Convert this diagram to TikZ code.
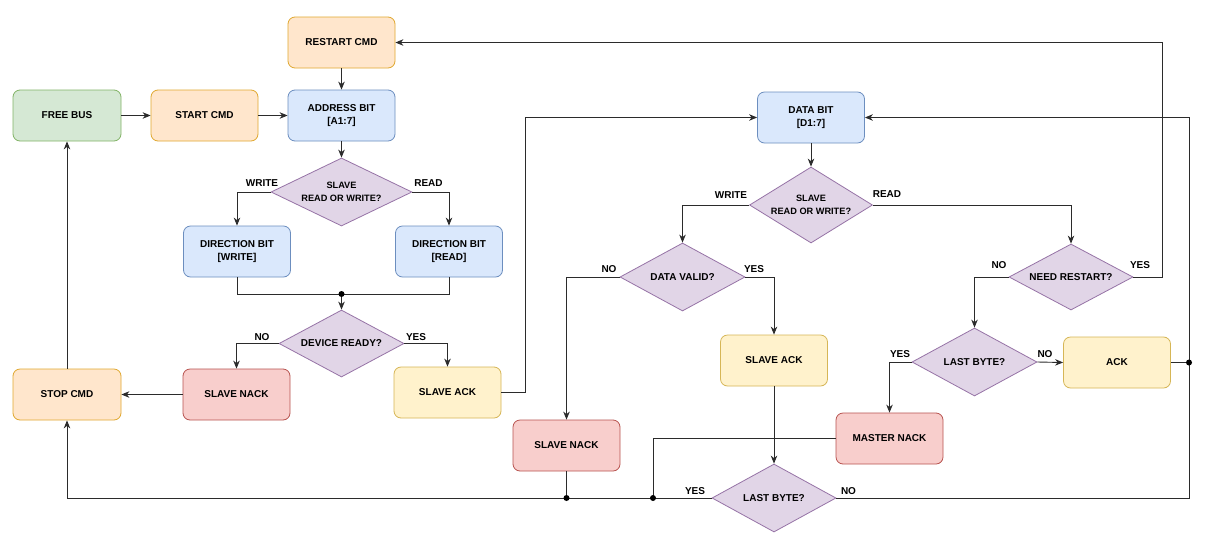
\documentclass[tikz,border=0pt]{standalone}
\usepackage{fontspec}
\setmainfont{Liberation Sans}
\usetikzlibrary{shapes.geometric,arrows.meta}
\definecolor{gFill}{HTML}{D5E8D4}\definecolor{gLine}{HTML}{82B366}
\definecolor{oFill}{HTML}{FFE6CC}\definecolor{oLine}{HTML}{E0A830}
\definecolor{bFill}{HTML}{DAE8FC}\definecolor{bLine}{HTML}{6C8EBF}
\definecolor{pFill}{HTML}{E1D5E7}\definecolor{pLine}{HTML}{9673A6}
\definecolor{rFill}{HTML}{F8CECC}\definecolor{rLine}{HTML}{B85450}
\definecolor{yFill}{HTML}{FFF2CC}\definecolor{yLine}{HTML}{D6B656}
\definecolor{lineC}{HTML}{2B2B2B}
\begin{document}
\begin{tikzpicture}[x=1pt,y=-1pt,
  box/.style={rectangle,rounded corners=7pt,minimum width=107pt,minimum height=51pt,inner sep=0pt,align=center,font=\bfseries\fontsize{10}{13.3}\selectfont,line width=0.8pt},
  grn/.style={box,fill=gFill,draw=gLine},
  org/.style={box,fill=oFill,draw=oLine},
  blu/.style={box,fill=bFill,draw=bLine},
  rdd/.style={box,fill=rFill,draw=rLine},
  ylw/.style={box,fill=yFill,draw=yLine},
  dec/.style={diamond,aspect=2,inner sep=0pt,align=center,draw=pLine,fill=pFill,line width=0.8pt,font=\bfseries\fontsize{10}{13}\selectfont},
  decs/.style={dec,font=\bfseries\fontsize{9.2}{12.6}\selectfont},
  lbl/.style={font=\bfseries\fontsize{10}{12}\selectfont,inner sep=0pt},
  conn/.style={line width=0.9pt,draw=lineC},
  arr/.style={conn,-{Stealth[length=8pt,width=6.5pt,inset=2.5pt]}},
  dotj/.style={circle,fill=black,inner sep=0pt,minimum size=6pt}
]
\useasboundingbox[fill=white] (0,0) rectangle (1223,552);

% nodes
\node[org] (restart) at (341.5,42.5) {RESTART CMD};
\node[grn,minimum width=108pt] (free) at (67,115.5) {FREE BUS};
\node[org] (start) at (204.5,115.5) {START CMD};
\node[blu] (addr) at (341.5,115.5) {ADDRESS BIT\\{[A1:7]}};
\node[decs,minimum width=141pt,minimum height=68pt] (rw1) at (341.5,192) {SLAVE\\READ OR WRITE?};
\node[blu] (dirw) at (237,251.5) {DIRECTION BIT\\{[WRITE]}};
\node[blu] (dirr) at (449,251.5) {DIRECTION BIT\\{[READ]}};
\node[dec,minimum width=125pt,minimum height=67pt] (ready) at (341.5,343.5) {DEVICE READY?};
\node[rdd] (nack1) at (236.5,394.5) {SLAVE NACK};
\node[org,minimum width=108pt] (stop) at (67,394.5) {STOP CMD};
\node[ylw] (ack1) at (447.5,392.5) {SLAVE ACK};
\node[blu] (data) at (811,117.5) {DATA BIT\\{[D1:7]}};
\node[decs,aspect=1.6,minimum width=123pt,minimum height=76pt] (rw2) at (811,205) {SLAVE\\READ OR WRITE?};
\node[dec,minimum width=125pt,minimum height=68pt] (valid) at (682.5,277) {DATA VALID?};
\node[dec,minimum width=124pt,minimum height=66pt] (needr) at (1071,277) {NEED RESTART?};
\node[rdd] (nack2) at (566.5,445.5) {SLAVE NACK};
\node[ylw] (ack2) at (774,360.5) {SLAVE ACK};
\node[dec,minimum width=125pt,minimum height=68pt] (lb1) at (974.5,362) {LAST BYTE?};
\node[ylw] (ack) at (1117,362.5) {ACK};
\node[rdd] (mnack) at (889.5,438.5) {MASTER NACK};
\node[dec,minimum width=124pt,minimum height=68pt] (lb2) at (774,498) {LAST BYTE?};

% junctions and bends
\coordinate (j1) at (341.5,294);
\coordinate (jA) at (1189,362.5);
\coordinate (jB) at (566.5,498);
\coordinate (jC) at (653,498);
\coordinate (bendA) at (525,117.5);
\coordinate (bendR) at (1162,42.5);
\coordinate (bendD) at (1189,117.5);

% connectors
\draw[arr] (free.east) -- (start.west);
\draw[arr] (start.east) -- (addr.west);
\draw[arr] (restart.south) -- (addr.north);
\draw[arr] (addr.south) -- (rw1.north);
\draw[arr] (rw1.west) -| (dirw.north);
\draw[arr] (rw1.east) -| (dirr.north);
\draw[conn] (dirw.south) |- (j1);
\draw[conn] (dirr.south) |- (j1);
\draw[arr] (j1) -- (ready.north);
\draw[arr] (ready.west) -| (nack1.north);
\draw[arr] (ready.east) -| (ack1.north);
\draw[arr] (nack1.west) -- (stop.east);
\draw[arr] (stop.north) -- (free.south);
\draw[arr] (ack1.east) -| (bendA) -- (data.west);
\draw[arr] (data.south) -- (rw2.north);
\draw[arr] (rw2.west) -| (valid.north);
\draw[arr] (rw2.east) -| (needr.north);
\draw[arr] (valid.west) -| (nack2.north);
\draw[arr] (valid.east) -| (ack2.north);
\draw[arr] (ack2.south) -- (lb2.north);
\draw[arr] (needr.west) -| (lb1.north);
\draw[arr] (needr.east) -| (bendR) -- (restart.east);
\draw[arr] (lb1.west) -| (mnack.north);
\draw[arr] (lb1.east) -- (ack.west);
\draw[conn] (ack.east) -- (jA);
\draw[arr] (lb2.east) -| (bendD) -- (data.east);
\draw[arr] (lb2.west) -| (stop.south);
\draw[conn] (nack2.south) -- (jB);
\draw[conn] (mnack.west) -| (jC);

% dots
\node[dotj] (d1) at (j1) {};
\node[dotj] (d2) at (jA) {};
\node[dotj] (d3) at (jB) {};
\node[dotj] (d4) at (jC) {};

% labels
\node[lbl] (t1) at (262,183.5) {WRITE};
\node[lbl] (t2) at (428.5,183.5) {READ};
\node[lbl] (t3) at (262,337.5) {NO};
\node[lbl] (t4) at (416,337.5) {YES};
\node[lbl] (t5) at (731,195) {WRITE};
\node[lbl] (t6) at (887,194.5) {READ};
\node[lbl] (t7) at (609,269.5) {NO};
\node[lbl] (t8) at (754,269.5) {YES};
\node[lbl] (t9) at (999,265.5) {NO};
\node[lbl] (t10) at (1140,265.5) {YES};
\node[lbl] (t11) at (900,354.5) {YES};
\node[lbl] (t12) at (1045,354) {NO};
\node[lbl] (t13) at (695,491) {YES};
\node[lbl] (t14) at (848.5,491.5) {NO};
\end{tikzpicture}
\end{document}
